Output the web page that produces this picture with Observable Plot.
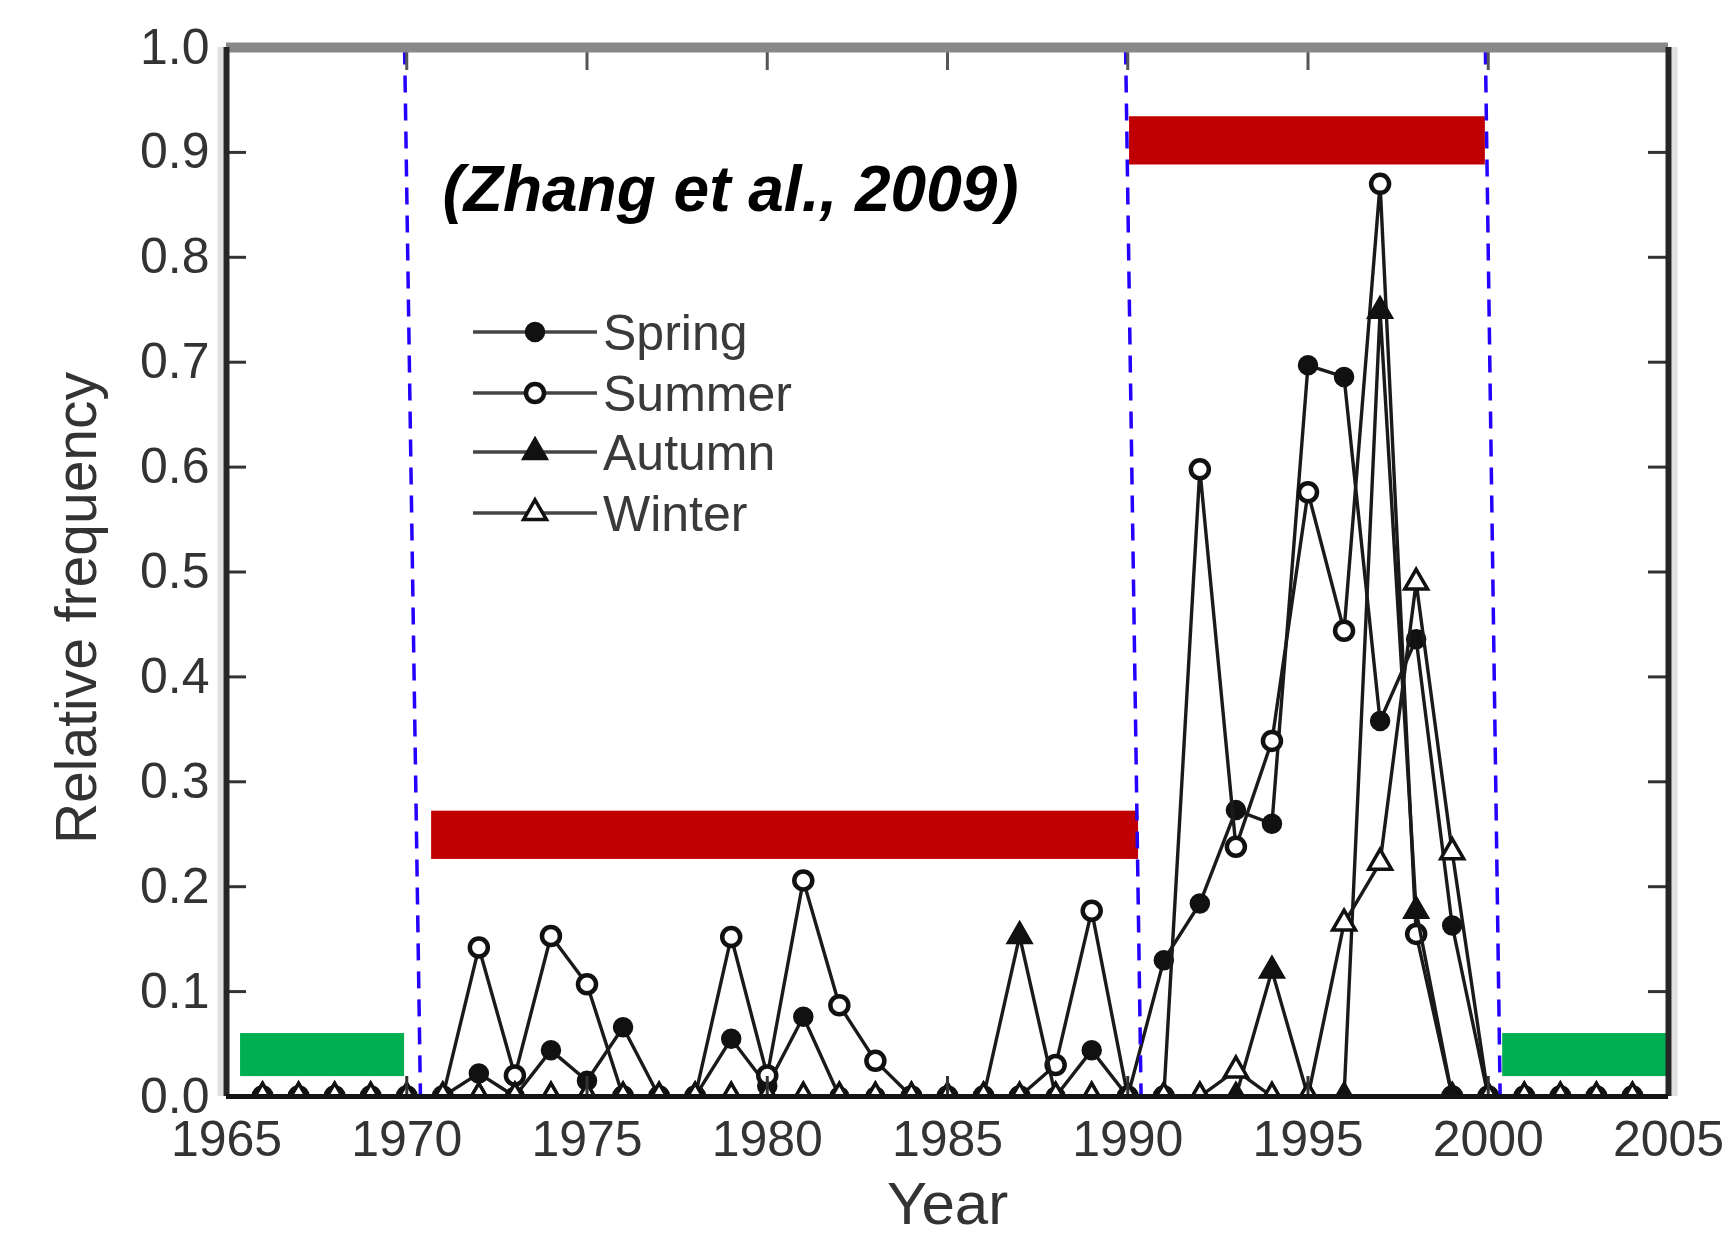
<!DOCTYPE html>
<html>
<head>
<meta charset="utf-8">
<script src="https://cdn.jsdelivr.net/npm/d3@7"></script>
<script src="https://cdn.jsdelivr.net/npm/@observablehq/plot@0.6"></script>
<style>
  html, body { margin: 0; padding: 0; background: #fff; }
  #wrap { position: relative; width: 1731px; height: 1238px; }
  #legend { position: absolute; left: 0; top: 0; pointer-events: none; }
</style>
</head>
<body>
<div id="wrap"></div>
<script>
// ---------------- data ----------------
const years = [1966, 1967, 1968, 1969, 1970, 1971, 1972, 1973, 1974, 1975,
               1976, 1977, 1978, 1979, 1980, 1981, 1982, 1983, 1984, 1985,
               1986, 1987, 1988, 1989, 1990, 1991, 1992, 1993, 1994, 1995,
               1996, 1997, 1998, 1999, 2000, 2001, 2002, 2003, 2004];
const spring = [0, 0, 0, 0, 0, 0, 0.022, 0, 0.044, 0.015,
                0.066, 0, 0, 0.055, 0.01, 0.076, 0, 0, 0, 0,
                0, 0, 0, 0.044, 0, 0.13, 0.184, 0.273, 0.26, 0.697,
                0.686, 0.358, 0.436, 0.163, 0, 0, 0, 0, 0];
const summer = [0, 0, 0, 0, 0, 0, 0.142, 0.02, 0.153, 0.107,
                0, 0, 0, 0.152, 0.02, 0.206, 0.087, 0.034, 0, 0,
                0, 0, 0.03, 0.177, 0, 0, 0.598, 0.238, 0.339, 0.576,
                0.444, 0.87, 0.155, 0, 0, 0, 0, 0, 0];
const autumn = [0, 0, 0, 0, 0, 0, 0, 0, 0, 0,
                0, 0, 0, 0, 0, 0, 0, 0, 0, 0,
                0, 0.153, 0, 0, 0, 0, 0, 0, 0.12, 0,
                0, 0.749, 0.177, 0, 0, 0, 0, 0, 0];
const winter = [0, 0, 0, 0, 0, 0, 0, 0, 0, 0,
                0, 0, 0, 0, 0, 0, 0, 0, 0, 0,
                0, 0, 0, 0, 0, 0, 0, 0.025, 0, 0,
                0.165, 0.223, 0.49, 0.233, 0, 0, 0, 0, 0];
const seasons = ["Spring", "Summer", "Autumn", "Winter"];

const xDomain = [1965, 2005];
const yDomain = [0, 1];
const xTicks = [1965, 1970, 1975, 1980, 1985, 1990, 1995, 2000, 2005];
const yTicks = [0, 0.1, 0.2, 0.3, 0.4, 0.5, 0.6, 0.7, 0.8, 0.9, 1.0];

// highlighted periods (years, relative frequency)
const periodStart = [1965.39, 1970.69, 1990.05, 2000.40];
const periodEnd   = [1969.94, 1990.30, 1999.92, 2004.95];
const periodLow   = [0.019, 0.226, 0.888, 0.019];
const periodHigh  = [0.060, 0.272, 0.934, 0.060];
const periodKind  = ["low", "high", "high", "low"];

// regime break lines (year at top, year at bottom)
const breakTop    = [1969.94, 1989.94, 1999.92];
const breakBottom = [1970.38, 1990.37, 2000.33];

const citation = "(Zhang et al., 2009)";
const xLabel = "Year";
const yLabel = "Relative frequency";

// ---------------- styles / layout ----------------
const W = 1731, H = 1238;
const mL = 226, mR = 63, mT = 47, mB = 142;
const frameW = W - mL - mR, frameH = H - mT - mB;
const FONT = "Liberation Sans, Arial, Helvetica, sans-serif";
const kindColor = {low: "#00b050", high: "#c00000"};
const seriesStyle = {
  Spring: {symbol: "circle",   fill: "#111", r: 9.5, sw: 1.5},
  Summer: {symbol: "circle",   fill: "#fff", r: 9,   sw: 4.5},
  Autumn: {symbol: "triangle", fill: "#111", r: 9.5, sw: 1.5},
  Winter: {symbol: "triangle", fill: "#fff", r: 8.5, sw: 3.5}
};
const seriesValues = [spring, summer, autumn, winter];

const rows = seasons.flatMap((s, k) =>
  years.map((yr, i) => ({season: s, year: yr, value: seriesValues[k][i]})));
const periods = periodStart.map((s, i) => ({
  x1: s, x2: periodEnd[i], y1: periodLow[i], y2: periodHigh[i], kind: periodKind[i]}));
const breaks = breakTop.map((t, i) => ({top: t, bottom: breakBottom[i]}));

const seriesMarks = seasons.flatMap(s => {
  const st = seriesStyle[s];
  const d = rows.filter(r => r.season === s);
  return [
    Plot.line(d, {x: "year", y: "value", stroke: "#1a1a1a", strokeWidth: 3.4, clip: true}),
    Plot.dot(d, {x: "year", y: "value", symbol: st.symbol, r: st.r, fill: st.fill,
                 stroke: "#111", strokeWidth: st.sw, clip: true})
  ];
});

const chart = Plot.plot({
  width: W, height: H,
  marginLeft: mL, marginRight: mR, marginTop: mT, marginBottom: mB,
  style: {fontFamily: FONT, background: "white"},
  x: {domain: xDomain},
  y: {domain: yDomain},
  marks: [
    Plot.rect(periods, {x1: "x1", x2: "x2", y1: "y1", y2: "y2",
                        fill: d => kindColor[d.kind]}),
    ...seriesMarks,
    Plot.link(breaks, {x1: "top", x2: "bottom", y1: () => yDomain[1], y2: () => yDomain[0],
                       stroke: "#2400ff", strokeWidth: 3.5, strokeDasharray: "17,11"}),
    // inward ticks
    Plot.tickY(yTicks, {y: d => d, stroke: "#333", strokeWidth: 3, insetRight: frameW - 20}),
    Plot.tickY(yTicks, {y: d => d, stroke: "#333", strokeWidth: 3, insetLeft: frameW - 20}),
    Plot.tickX(xTicks, {x: d => d, stroke: "#555", strokeWidth: 3, insetBottom: frameH - 23}),
    Plot.tickX(xTicks, {x: d => d, stroke: "#333", strokeWidth: 3, insetTop: frameH - 20}),
    // frame
    Plot.ruleY([yDomain[1]], {stroke: "#888", strokeWidth: 10}),
    Plot.ruleX([xDomain[0]], {stroke: "#e0e0e0", strokeWidth: 6, dx: -6}),
    Plot.ruleX([xDomain[1]], {stroke: "#e0e0e0", strokeWidth: 6, dx: 6}),
    Plot.ruleX([xDomain[0]], {stroke: "#262626", strokeWidth: 6}),
    Plot.ruleX([xDomain[1]], {stroke: "#262626", strokeWidth: 6}),
    Plot.ruleY([yDomain[0]], {stroke: "#141414", strokeWidth: 5}),
    // axes
    Plot.axisX(xTicks, {tickSize: 0, tickPadding: 24, fontSize: 50, color: "#333", label: null,
                        tickFormat: d => String(d)}),
    Plot.axisY(yTicks, {tickSize: 0, tickPadding: 17, fontSize: 50, color: "#333", label: null,
                        tickFormat: d3.format(".1f")}),
    Plot.text([xLabel], {text: d => d, frameAnchor: "bottom", textAnchor: "middle",
                         lineAnchor: "bottom", dy: 127, fontSize: 60, fill: "#333"}),
    Plot.text([yLabel], {text: d => d, frameAnchor: "left", textAnchor: "middle", rotate: -90,
                         dx: -149, dy: 36, fontSize: 57, fill: "#333"}),
    Plot.text([citation], {text: d => d, frameAnchor: "top-left", textAnchor: "start",
                           lineAnchor: "bottom", dx: 216, dy: 163, fontSize: 64,
                           fontWeight: "bold", fontStyle: "italic", fill: "#000"})
  ]
});

const wrap = document.getElementById("wrap");
wrap.appendChild(chart);

// ---------------- legend overlay ----------------
const legendRowsY = [332, 393, 452, 513];
const lg = d3.create("svg").attr("id", "legend").attr("width", W).attr("height", H);
seasons.forEach((s, i) => {
  const st = seriesStyle[s];
  const y = legendRowsY[i];
  const g = lg.append("g");
  g.append("line").attr("x1", 473).attr("x2", 597).attr("y1", y).attr("y2", y)
    .attr("stroke", "#444").attr("stroke-width", 3.5);
  const sym = st.symbol === "circle" ? d3.symbolCircle : d3.symbolTriangle;
  g.append("path").attr("d", d3.symbol(sym, Math.PI * st.r * st.r)())
    .attr("transform", `translate(535,${y})`)
    .attr("fill", st.fill).attr("stroke", "#111").attr("stroke-width", st.sw);
  g.append("text").attr("x", 603).attr("y", y).attr("dy", "0.35em")
    .attr("font-family", FONT).attr("font-size", 50).attr("fill", "#3a3a3a").text(s);
});
wrap.appendChild(lg.node());
</script>
</body>
</html>
